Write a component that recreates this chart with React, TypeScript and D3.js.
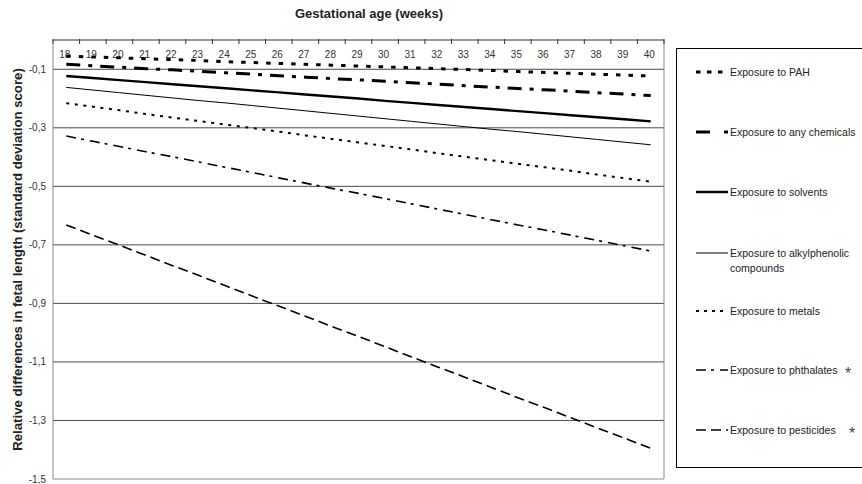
import React from "react";
import * as d3 from "d3";

// Gestational weeks on the (top) category axis
const weeks: number[] = [18, 19, 20, 21, 22, 23, 24, 25, 26, 27, 28, 29, 30, 31, 32, 33, 34, 35, 36, 37, 38, 39, 40];

// Relative differences in fetal length (SD score) per exposure group
const pah: number[] = [-0.055, -0.058, -0.061, -0.064, -0.067, -0.070, -0.074, -0.077, -0.080, -0.083, -0.086, -0.089, -0.092, -0.095, -0.098, -0.101, -0.104, -0.108, -0.111, -0.114, -0.117, -0.120, -0.123];
const anyChemicals: number[] = [-0.083, -0.088, -0.093, -0.098, -0.102, -0.107, -0.112, -0.117, -0.122, -0.127, -0.132, -0.136, -0.141, -0.146, -0.151, -0.156, -0.161, -0.166, -0.170, -0.175, -0.180, -0.185, -0.190];
const solvents: number[] = [-0.123, -0.130, -0.137, -0.144, -0.151, -0.158, -0.165, -0.172, -0.179, -0.186, -0.193, -0.200, -0.208, -0.215, -0.222, -0.229, -0.236, -0.243, -0.250, -0.257, -0.264, -0.271, -0.278];
const alkylphenolic: number[] = [-0.162, -0.171, -0.180, -0.189, -0.198, -0.207, -0.215, -0.224, -0.233, -0.242, -0.251, -0.260, -0.269, -0.278, -0.287, -0.296, -0.305, -0.313, -0.322, -0.331, -0.340, -0.349, -0.358];
const metals: number[] = [-0.216, -0.228, -0.240, -0.253, -0.265, -0.277, -0.289, -0.301, -0.313, -0.326, -0.338, -0.350, -0.362, -0.374, -0.387, -0.399, -0.411, -0.423, -0.435, -0.447, -0.460, -0.472, -0.484];
const phthalates: number[] = [-0.328, -0.346, -0.364, -0.382, -0.399, -0.417, -0.435, -0.453, -0.471, -0.489, -0.507, -0.524, -0.542, -0.560, -0.578, -0.596, -0.614, -0.632, -0.649, -0.667, -0.685, -0.703, -0.721];
const pesticides: number[] = [-0.632, -0.667, -0.701, -0.736, -0.771, -0.805, -0.840, -0.875, -0.909, -0.944, -0.979, -1.013, -1.048, -1.083, -1.118, -1.152, -1.187, -1.222, -1.256, -1.291, -1.326, -1.360, -1.395];

// Y tick values and their labels (comma decimals)
const yTicks: number[] = [-0.1, -0.3, -0.5, -0.7, -0.9, -1.1, -1.3, -1.5];
const yTickLabels: string[] = ["-0,1", "-0,3", "-0,5", "-0,7", "-0,9", "-1,1", "-1,3", "-1,5"];

const seriesNames: string[][] = [
  ["Exposure to PAH"],
  ["Exposure to any chemicals"],
  ["Exposure to solvents"],
  ["Exposure to alkylphenolic", "compounds"],
  ["Exposure to metals"],
  ["Exposure to phthalates"],
  ["Exposure to pesticides"],
];
const significant: boolean[] = [false, false, false, false, false, true, true];
const seriesValues: number[][] = [pah, anyChemicals, solvents, alkylphenolic, metals, phthalates, pesticides];

// Stroke styles per series
const strokeWidths: number[] = [3, 3, 2.4, 1, 2, 1.6, 1.6];
const dashes: string[] = ["4.5 8", "14 8 4 8", "none", "none", "3 5.6", "10 5 3 6", "10 5"];
const legendDashes: string[] = ["4.5 6.5", "14 14 4 1", "none", "none", "3 5", "10 5 3 6", "10 5"];

const FONT = "'Liberation Sans', Arial, sans-serif";

export default function App() {
  const W = 862;
  const H = 484;
  const left = 53;
  const right = 664;
  const top = 40;
  const bottom = 479;

  const x = d3.scaleBand<string>().domain(weeks.map(String)).range([left, right]).padding(0);
  const y = d3.scaleLinear().domain([-1.5, 0]).range([bottom, top]);
  const cx = (w: number) => (x(String(w)) as number) + x.bandwidth() / 2;

  const line = d3
    .line<number>()
    .x((_, i) => cx(weeks[i]))
    .y((v) => y(v));

  // Category boundary tick positions
  const boundaries = weeks.map((w) => x(String(w)) as number).concat([right]);

  const legendX0 = 696;
  const legendX1 = 728;
  const legendYs = [72, 132, 192, 253, 311, 370, 430];

  return (
    <svg width={W} height={H} style={{ position: "absolute", left: 0, top: 0, background: "#fff" }}>
      <rect x={0} y={0} width={W} height={H} fill="#fff" />
      {/* Axis titles */}
      <text x={369} y={18} textAnchor="middle" fontFamily={FONT} fontWeight="bold" fontSize={13} fill="#222">
        Gestational age (weeks)
      </text>
      <text
        transform={`translate(22, ${(top + bottom) / 2}) rotate(-90)`}
        textAnchor="middle"
        fontFamily={FONT}
        fontWeight="bold"
        fontSize={13.2}
        fill="#222"
      >
        Relative differences in fetal length (standard deviation score)
      </text>

      {/* Gridlines */}
      {yTicks.slice(0, -1).map((t) => (
        <line key={t} x1={left} x2={right} y1={y(t)} y2={y(t)} stroke="#4a4a4a" strokeWidth={1} />
      ))}
      {/* Plot frame */}
      <line x1={left} x2={left} y1={top} y2={bottom} stroke="#8a8a8a" />
      <line x1={right} x2={right} y1={top} y2={bottom} stroke="#8a8a8a" />
      <line x1={left} x2={right} y1={bottom} y2={bottom} stroke="#8a8a8a" />
      <line x1={left} x2={right} y1={top} y2={top} stroke="#333" />
      {boundaries.map((b, i) => (
        <line key={i} x1={b} x2={b} y1={top - 1} y2={top + 4} stroke="#333" />
      ))}

      {/* Y tick labels */}
      {yTicks.map((t, i) => (
        <text key={t} x={46} y={y(t)} dy="0.35em" textAnchor="end" fontFamily={FONT} fontSize={10} fill="#333">
          {yTickLabels[i]}
        </text>
      ))}

      {/* X tick labels */}
      {weeks.map((w) => (
        <text key={w} x={cx(w) - 1.5} y={54} dy="0.35em" textAnchor="middle" fontFamily={FONT} fontSize={10} fill="#333">
          {w}
        </text>
      ))}

      {/* Series */}
      {seriesValues.map((vals, i) => (
        <path
          key={i}
          d={line(vals) as string}
          fill="none"
          stroke="#000"
          strokeWidth={strokeWidths[i]}
          strokeDasharray={dashes[i]}
        />
      ))}

      {/* Legend */}
      <rect x={676.5} y={48.5} width={200} height={419} fill="#fff" stroke="#000" strokeWidth={1} />
      {seriesNames.map((name, i) => (
        <g key={i}>
          <line
            x1={legendX0}
            x2={legendX1}
            y1={legendYs[i]}
            y2={legendYs[i]}
            stroke="#000"
            strokeWidth={strokeWidths[i]}
            strokeDasharray={legendDashes[i]}
          />
          {name.map((ln, j) => (
            <text
              key={j}
              x={legendX1 + 2}
              y={legendYs[i] + j * 15}
              dy="0.35em"
              fontFamily={FONT}
              fontSize={10.5}
              fill="#222"
            >
              {ln}
            </text>
          ))}
          {significant[i] && (
            <text x={848 + (i === 6 ? 4 : 0)} y={legendYs[i] + 9} textAnchor="middle" fontFamily={FONT} fontSize={16} fill="#444">
              *
            </text>
          )}
        </g>
      ))}
    </svg>
  );
}
